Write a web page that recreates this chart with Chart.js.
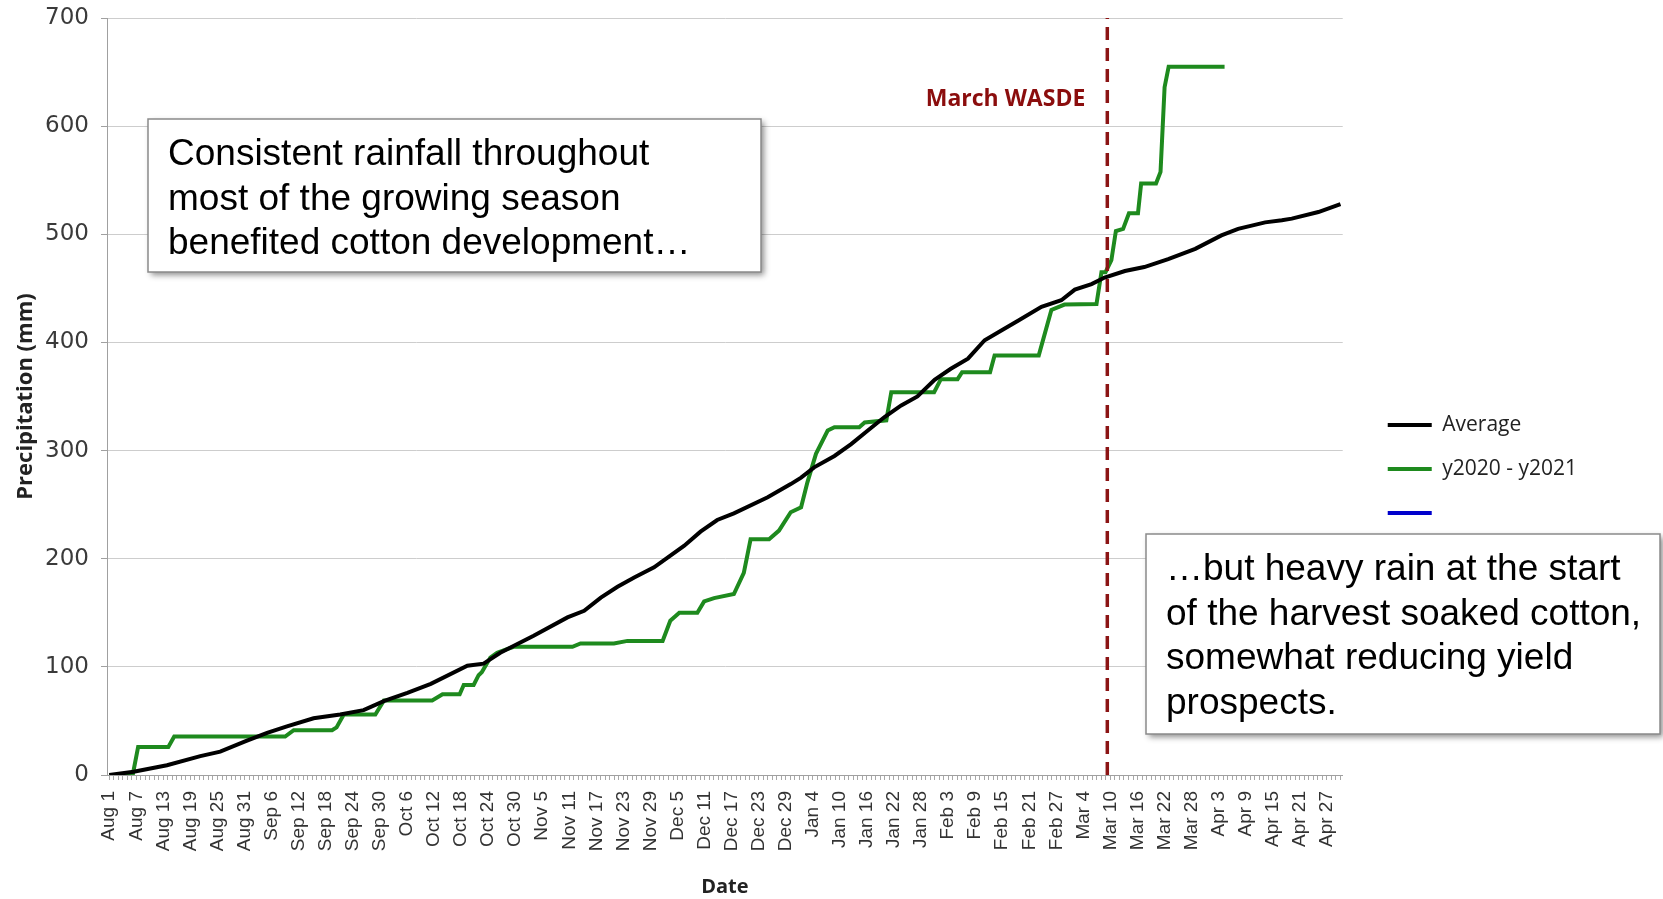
<!DOCTYPE html>
<html>
<head>
<meta charset="utf-8">
<script src="https://cdn.jsdelivr.net/npm/chart.js@4.4.1/dist/chart.umd.min.js"></script>
<style>
  html, body { margin: 0; padding: 0; background: #fff; }
  canvas { display: block; }
</style>
</head>
<body>
<canvas id="chart" width="1663" height="899"></canvas>
<script>
// x axis: one slot per day, Aug 1 (0) .. Apr 30 (273), label every 6th day
const DAY_COUNT = 274;
const LABEL_STEP = 6;
const tickLabels = [
  "Aug 1", "Aug 7", "Aug 13", "Aug 19", "Aug 25", "Aug 31",
  "Sep 6", "Sep 12", "Sep 18", "Sep 24", "Sep 30",
  "Oct 6", "Oct 12", "Oct 18", "Oct 24", "Oct 30",
  "Nov 5", "Nov 11", "Nov 17", "Nov 23", "Nov 29",
  "Dec 5", "Dec 11", "Dec 17", "Dec 23", "Dec 29",
  "Jan 4", "Jan 10", "Jan 16", "Jan 22", "Jan 28",
  "Feb 3", "Feb 9", "Feb 15", "Feb 21", "Feb 27",
  "Mar 4", "Mar 10", "Mar 16", "Mar 22", "Mar 28",
  "Apr 3", "Apr 9", "Apr 15", "Apr 21", "Apr 27",
];

// Average cumulative precipitation (mm)
const avgDays = [0, 5.4, 12.8, 20.2, 24.6, 30.4, 35, 39.4, 45.3, 51.2, 56.4, 61, 66.1, 71.3,
  79.4, 83, 86.7, 94.1, 101.6, 105.3, 109, 112.7, 116.4, 120.8, 123.8, 127.5, 131.1,
  134.8, 138.5, 146, 151.1, 153.4, 156.3, 160.8, 164.5, 168.2, 171.9, 175.6, 179.2,
  183, 186.6, 190.4, 194.1, 197.8, 201.5, 206.7, 211.1, 214.1, 217.8, 220.7, 225.2,
  229.5, 234.8, 240.8, 246.6, 250.3, 253.3, 256.3, 260, 262.2, 268.1, 273];
const avgVals = [0, 3, 9, 17.5, 21.6, 31.5, 39, 45, 52.5, 56, 60, 68.5, 76, 84.3,
  101, 103, 113, 128.7, 145.7, 151.8, 164, 174, 182.7, 192, 201, 212, 225,
  235.8, 242, 256.8, 269, 275, 284.5, 295, 306, 318.5, 331, 341.7, 350,
  365.5, 375.6, 385, 402, 411, 420, 433, 439, 448.8, 454, 460, 466,
  469.7, 477, 486.5, 499, 505, 508, 511, 513, 514.5, 520.6, 528];

// 2020-2021 season cumulative precipitation (mm), step corners
const seasonDays = [0, 5.2, 6.4, 13.1, 14.4, 39.0, 40.9, 49.4, 50.4, 52.0, 59.0, 60.9,
  71.6, 73.9, 77.7, 78.6, 80.8, 81.9, 82.6, 84.5, 86.0, 88.2, 89.7, 102.7, 104.5,
  111.9, 114.9, 122.7, 124.4, 126.4, 130.4, 131.9, 134.1, 138.5, 140.7, 142.2,
  146.3, 148.5, 151.1, 153.4, 154.8, 156.7, 159.3, 160.8, 166.3, 167.5, 172.3,
  173.4, 182.9, 184.4, 188.1, 189.1, 195.3, 196.3, 206.1, 208.9, 211.8, 218.9,
  220.0, 220.9, 222.2, 223.2, 224.8, 226.1, 228.1, 228.8, 232.1, 233.1, 234.0,
  234.9, 247.3];
const seasonVals = [0, 0, 26, 26, 35.5, 35.5, 41.4, 41.4, 44, 56, 56, 69,
  69, 74.7, 74.7, 83.3, 83.3, 92.3, 95, 108.6, 113, 116.3, 118.5, 118.5, 121.6,
  121.6, 124, 124, 142.6, 150, 150, 160.5, 163.6, 167.3, 187, 218,
  218, 226, 243, 247.5, 270.6, 297, 318.5, 321.6, 321.6, 326, 328,
  354, 354, 366, 366, 372.5, 372.5, 388, 388, 430, 435, 435.5,
  465, 465, 476, 503, 505, 519.5, 519.5, 547, 547, 557.7, 636,
  655, 655];

// March WASDE release marker (day slot)
const wasdeDay = 221.3;

const toPoints = (xs, ys) => xs.map((x, i) => ({ x, y: ys[i] }));
const tickDays = [];
for (let d = 0; d < DAY_COUNT; d++) tickDays.push(d);

const annotations = {
  id: "annotations",
  afterDraw(chart) {
    const ctx = chart.ctx;
    const xs = chart.scales.x;
    const ys = chart.scales.y;

    // March WASDE label
    ctx.save();
    ctx.fillStyle = "#8b0d0d";
    ctx.font = "bold 23px 'Open Sans'";
    ctx.textAlign = "right";
    ctx.textBaseline = "middle";
    ctx.fillText("March WASDE", xs.getPixelForValue(wasdeDay) - 22, ys.getPixelForValue(625));
    ctx.restore();

    const boxes = [
      { x: 148, y: 119, w: 613, h: 153, lines: [
        "Consistent rainfall throughout",
        "most of the growing season",
        "benefited cotton development\u2026" ] },
      { x: 1146, y: 534, w: 514, h: 200, lines: [
        "\u2026but heavy rain at the start",
        "of the harvest soaked cotton,",
        "somewhat reducing yield",
        "prospects." ] },
    ];
    boxes.forEach((b) => {
      ctx.save();
      ctx.shadowColor = "rgba(0,0,0,0.45)";
      ctx.shadowBlur = 6;
      ctx.shadowOffsetX = 3;
      ctx.shadowOffsetY = 3;
      ctx.fillStyle = "#fff";
      ctx.fillRect(b.x, b.y, b.w, b.h);
      ctx.restore();
      ctx.save();
      ctx.strokeStyle = "#8a8a8a";
      ctx.lineWidth = 1.5;
      ctx.strokeRect(b.x, b.y, b.w, b.h);
      ctx.fillStyle = "#000";
      ctx.font = "37px 'Liberation Sans'";
      ctx.textBaseline = "alphabetic";
      b.lines.forEach((t, i) => {
        ctx.fillText(t, b.x + 20, b.y + 46 + i * 44.5);
      });
      ctx.restore();
    });
  },
};

const ctx = document.getElementById("chart").getContext("2d");
new Chart(ctx, {
  type: "line",
  data: {
    datasets: [
      {
        label: "wasde",
        data: [{ x: wasdeDay, y: 0 }, { x: wasdeDay, y: 700 }],
        borderColor: "#8b1414",
        borderWidth: 3.5,
        borderDash: [13, 8],
        pointRadius: 0,
      },
      {
        label: "Average",
        data: toPoints(avgDays, avgVals),
        borderColor: "#000000",
        backgroundColor: "#000000",
        borderWidth: 4,
        pointRadius: 0,
      },
      {
        label: "y2020 - y2021",
        data: toPoints(seasonDays, seasonVals),
        borderColor: "#1e8a1e",
        backgroundColor: "#1e8a1e",
        borderWidth: 4,
        pointRadius: 0,
      },
      {
        label: "",
        data: [],
        borderColor: "#0000cc",
        backgroundColor: "#0000cc",
        borderWidth: 4,
        pointRadius: 0,
      },
    ],
  },
  options: {
    responsive: false,
    animation: false,
    devicePixelRatio: 1,
    layout: { padding: { top: 18, right: 76, bottom: 0, left: 0 } },
    plugins: {
      tooltip: { enabled: false },
      legend: {
        position: "right",
        title: { display: true, text: " ", font: { size: 10 }, padding: { top: 0, bottom: 9 } },
        labels: {
          boxWidth: 44,
          boxHeight: 4,
          padding: 23,
          color: "#222",
          font: { family: "'Open Sans'", size: 21 },
          filter: (item) => item.text !== "wasde",
          generateLabels: (chart) =>
            Chart.defaults.plugins.legend.labels.generateLabels(chart).map((it) => {
              it.lineWidth = 0;
              it.fillStyle = it.strokeStyle;
              it.lineDash = [];
              return it;
            }),
        },
      },
    },
    scales: {
      x: {
        type: "linear",
        min: -0.5,
        max: DAY_COUNT - 0.5,
        afterBuildTicks: (s) => { s.ticks = tickDays.map((d) => ({ value: d })); },
        afterFit: (s) => { s.height = 124; },
        ticks: {
          autoSkip: false,
          minRotation: 90,
          maxRotation: 90,
          padding: 11,
          color: "#333",
          font: { family: "'Liberation Sans'", size: 19 },
          callback: (v) => (v % LABEL_STEP === 0 ? tickLabels[v / LABEL_STEP] : ""),
        },
        grid: { drawOnChartArea: false, tickLength: 5, color: "#a8a8a8" },
        border: { color: "#a0a0a0" },
        title: {
          display: true,
          text: "Date",
          color: "#222",
          font: { family: "'Open Sans'", size: 20, weight: "bold" },
          padding: { top: 0, bottom: 0 },
        },
      },
      y: {
        min: 0,
        max: 700,
        afterFit: (s) => {
          s.width = 107;
          s.paddingTop = 0;
          s.paddingBottom = 0;
        },
        ticks: {
          stepSize: 100,
          padding: 12,
          color: "#3a3a3a",
          font: { family: "'DejaVu Sans'", size: 23 },
        },
        grid: { color: "#cdcdcd", tickLength: 6, tickColor: "#a0a0a0" },
        border: { color: "#a0a0a0" },
        title: {
          display: true,
          text: "Precipitation (mm)",
          color: "#222",
          font: { family: "'Open Sans'", size: 22, weight: "bold" },
          padding: { top: 13, bottom: 0 },
        },
      },
      pad: {
        position: "right",
        display: true,
        afterFit: (s) => { s.width = 22; },
        ticks: { display: false },
        grid: { display: false, drawTicks: false },
        border: { display: false },
      },
    },
  },
  plugins: [annotations],
});
</script>
</body>
</html>
